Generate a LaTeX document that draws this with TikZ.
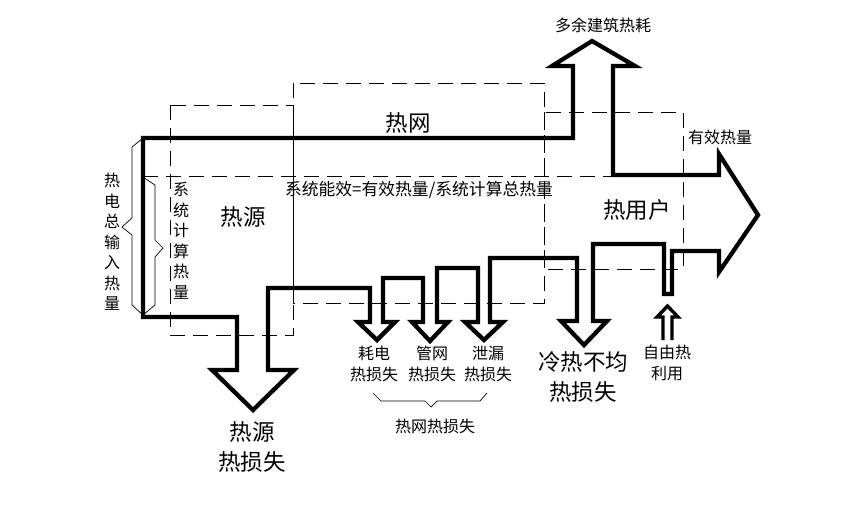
\documentclass[tikz,border=0pt]{standalone}
\usepackage{fontspec}
\setmainfont{Noto Sans CJK SC}
\begin{document}
\begin{tikzpicture}[x=1pt,y=-1pt,
  flow/.style={line width=4.3pt, line join=miter, miter limit=20},
  dashbox/.style={line width=0.8pt, dash pattern=on 15pt off 8pt},
  braceline/.style={line width=0.7pt},
  freearrow/.style={line width=3.4pt, line join=miter},
  small/.style={font=\fontsize{16}{21}\selectfont, inner sep=0pt, align=center},
  vsmall/.style={font=\fontsize{16}{20.5}\selectfont, inner sep=0pt, align=center},
  big/.style={font=\fontsize{22.5}{29.5}\selectfont, inner sep=0pt, align=center},
  eff/.style={font=\fontsize{16.8}{20}\selectfont, inner sep=0pt}]
\useasboundingbox (0,0) rectangle (854,512);

% dashed boxes
\draw[dashbox] (170,105) rectangle (293,335);
\draw[dashbox] (293,83) rectangle (544,303);
\draw[dashbox] (544,112) rectangle (683,269);
\draw[dashbox] (143,176) -- (613,176);

% main flow outline
\draw[flow] (143,138) -- (573,138) -- (573,66) -- (552,66) -- (592,41) -- (635,66)
  -- (613,66) -- (613,175) -- (719,175) -- (719,154) -- (758,215) -- (719,272)
  -- (719,251) -- (672,251) -- (672,294) -- (664,294) -- (664,244) -- (593,244)
  -- (593,321) -- (607,321) -- (584,345) -- (561,321) -- (577,321) -- (577,258)
  -- (490,258) -- (490,322) -- (503,322) -- (484,340) -- (465,322) -- (478,322)
  -- (478,268) -- (437,268) -- (437,322) -- (448,322) -- (430,341) -- (412,322)
  -- (423,322) -- (423,278) -- (383,278) -- (383,322) -- (395,322) -- (377,340)
  -- (358,322) -- (370,322) -- (370,288) -- (268,288) -- (268,370) -- (294,370)
  -- (253,410) -- (212,370) -- (237,370) -- (237,317) -- (143,317) -- cycle;

% free heat arrow
\draw[freearrow] (663,340) -- (663,317) -- (657,317) -- (667.5,306) -- (678,317)
  -- (672,317) -- (672,340);

% braces
\draw[braceline] (143,138) -- (132,147) -- (132,218) -- (122,227) -- (132,235)
  -- (132,305) -- (143,315);
\draw[braceline] (143,177) -- (155,185) -- (155,240) -- (163,248) -- (155,257)
  -- (155,305) -- (143,315);
\draw[braceline] (373,393) -- (381,401) -- (425,401) -- (431,407) -- (437,401)
  -- (480,401) -- (487,393);

% texts
\node[small] (surplus) at (603,25) {多余建筑热耗};
\node[big] (net) at (408,123) {热网};
\node[small] (useful) at (720,137) {有效热量};
\node[eff] (efficiency) at (419,190) {系统能效=有效热量/系统计算总热量};
\node[big] (source) at (243,217) {热源};
\node[big] (user) at (637,210) {热用户};
\node[vsmall] (totalin) at (112,242) {热\\电\\总\\输\\入\\热\\量};
\node[vsmall] (calcheat) at (181,241) {系\\统\\计\\算\\热\\量};
\node[small] (elecloss) at (374,364) {耗电\\热损失};
\node[small] (pipeloss) at (432,364) {管网\\热损失};
\node[small] (leakloss) at (488,364) {泄漏\\热损失};
\node[big] (uneven) at (583,377) {冷热不均\\热损失};
\node[small] (freeheat) at (667,363) {自由热\\利用};
\node[big] (srcloss) at (252,447) {热源\\热损失};
\node[small] (netloss) at (435,426) {热网热损失};
\end{tikzpicture}
\end{document}
